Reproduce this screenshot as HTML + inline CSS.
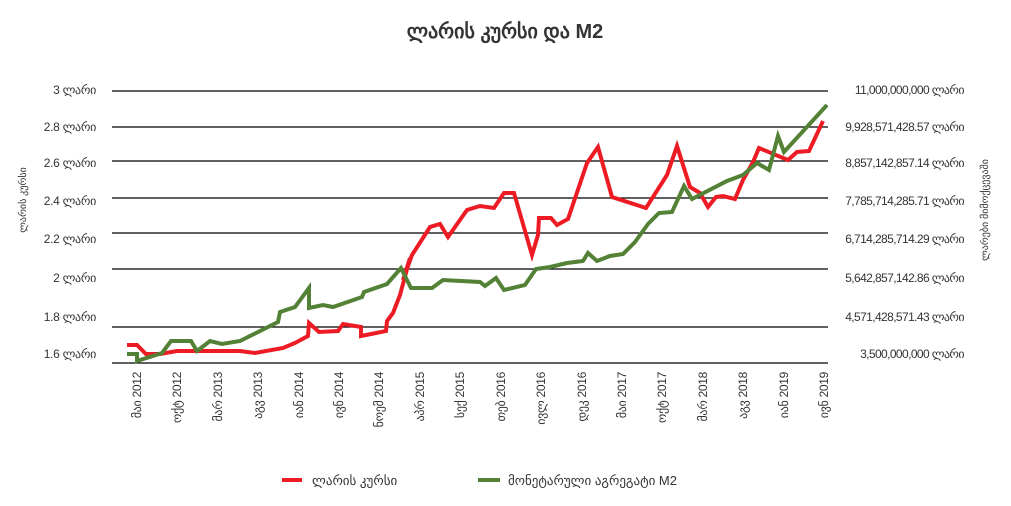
<!DOCTYPE html>
<html><head><meta charset="utf-8"><style>
body{margin:0;background:#fff;width:1011px;height:501px;overflow:hidden}
svg text{font-family:"Liberation Sans","Noto Sans CJK SC",sans-serif;fill:#333}
</style></head><body>
<svg width="1011" height="501" viewBox="0 0 1011 501" xmlns="http://www.w3.org/2000/svg">
<text x="505" y="38" text-anchor="middle" font-size="20" font-weight="bold" fill="#222">ლარის კურსი და M2</text>
<g stroke="#000" stroke-width="1.3">
<line x1="112" x2="828" y1="91" y2="91"/><line x1="112" x2="828" y1="127" y2="127"/>
<line x1="112" x2="828" y1="161" y2="161"/><line x1="112" x2="828" y1="198" y2="198"/>
<line x1="112" x2="828" y1="233" y2="233"/><line x1="112" x2="828" y1="269" y2="269"/>
<line x1="112" x2="828" y1="327" y2="327"/><line x1="112" x2="828" y1="363" y2="363"/>
</g>
<g font-size="12" text-anchor="end" letter-spacing="-0.3">
<text x="96" y="94">3 ლარი</text><text x="96" y="131">2.8 ლარი</text>
<text x="96" y="167">2.6 ლარი</text><text x="96" y="205">2.4 ლარი</text>
<text x="96" y="243">2.2 ლარი</text><text x="96" y="282">2 ლარი</text>
<text x="96" y="321">1.8 ლარი</text><text x="96" y="358">1.6 ლარი</text>
</g>
<g font-size="12" text-anchor="end" letter-spacing="-0.6">
<text x="964" y="94">11,000,000,000 ლარი</text><text x="964" y="131">9,928,571,428.57 ლარი</text>
<text x="964" y="167">8,857,142,857.14 ლარი</text><text x="964" y="205">7,785,714,285.71 ლარი</text>
<text x="964" y="243">6,714,285,714.29 ლარი</text><text x="964" y="282">5,642,857,142.86 ლარი</text>
<text x="964" y="321">4,571,428,571.43 ლარი</text><text x="964" y="358">3,500,000,000 ლარი</text>
</g>
<text font-size="10" transform="translate(26,200) rotate(-90)" text-anchor="middle">ლარის კურსი</text>
<text font-size="10" transform="translate(988,210) rotate(-90)" text-anchor="middle">ლარები მიმოქცევაში</text>
<g font-size="12" text-anchor="end" letter-spacing="-0.3">
<text transform="translate(141,372) rotate(-90)">მაი 2012</text>
<text transform="translate(181,372) rotate(-90)">ოქტ 2012</text>
<text transform="translate(222,372) rotate(-90)">მარ 2013</text>
<text transform="translate(262,372) rotate(-90)">აგვ 2013</text>
<text transform="translate(303,372) rotate(-90)">იან 2014</text>
<text transform="translate(343,372) rotate(-90)">ივნ 2014</text>
<text transform="translate(383,372) rotate(-90)">ნოემ 2014</text>
<text transform="translate(424,372) rotate(-90)">აპრ 2015</text>
<text transform="translate(464,372) rotate(-90)">სექ 2015</text>
<text transform="translate(505,372) rotate(-90)">თებ 2016</text>
<text transform="translate(545,372) rotate(-90)">ივლ 2016</text>
<text transform="translate(586,372) rotate(-90)">დეკ 2016</text>
<text transform="translate(626,372) rotate(-90)">მაი 2017</text>
<text transform="translate(666,372) rotate(-90)">ოქტ 2017</text>
<text transform="translate(707,372) rotate(-90)">მარ 2018</text>
<text transform="translate(747,372) rotate(-90)">აგვ 2018</text>
<text transform="translate(788,372) rotate(-90)">იან 2019</text>
<text transform="translate(828,372) rotate(-90)">ივნ 2019</text>
</g>
<polyline fill="none" stroke="#ed1c24" stroke-width="4" points="127,345 137,345 146,354 160,354 177,351 190,351 240,351 255,353 283,348 295,343 308,336 309,323 319,332 338,331 343,324 361,327 361,336 386,331 387,321 393,313 400,295 410,258 403,280 412,255 430,227 440,224 448,237 455,227 467,210 480,206 494,208 504,193 514,193 532,255 538,235 539,218 551,218 557,225 568,219 587,163 598,147 612,197 646,208 667,175 677,146 690,187 700,193 708,207 716,197 723,196 735,199 743,180 753,162 759,148 788,160 797,152 809,151 823,121"/>
<polyline fill="none" stroke="#538135" stroke-width="4" points="127,354 137,354 137,361 162,353 171,341 191,341 197,351 210,341 222,344 240,341 278,322 280,312 295,307 309,288 309,308 323,305 333,307 362,297 364,292 387,284 401,268 411,288 432,288 443,280 480,282 485,286 496,278 504,290 525,285 536,269 550,267 567,263 583,261 588,253 597,261 610,256 623,254 635,242 648,224 659,213 672,212 684,186 692,199 727,181 743,175 757,163 769,170 778,136 784,152 827,105"/>
<line x1="282" x2="302" y1="480" y2="480" stroke="#ed1c24" stroke-width="4"/>
<text x="312" y="485" font-size="13">ლარის კურსი</text>
<line x1="478" x2="500" y1="480" y2="480" stroke="#538135" stroke-width="4"/>
<text x="508" y="485" font-size="13">მონეტარული აგრეგატი M2</text>
</svg>
</body></html>
